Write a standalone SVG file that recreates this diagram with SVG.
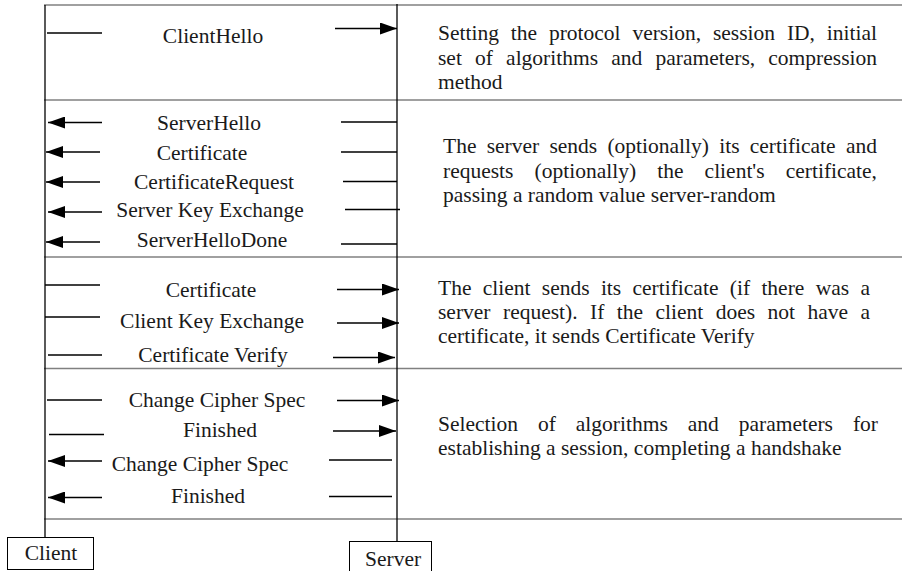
<svg xmlns="http://www.w3.org/2000/svg" width="902" height="571" viewBox="0 0 902 571" font-family="'Liberation Serif', 'Times New Roman', serif">
  <style>
    .sep { stroke: #808080; stroke-width: 1.5; fill: none; }
    .life { stroke: #000; stroke-width: 1.3; fill: none; }
    .msg { stroke: #000; stroke-width: 1.3; fill: none; }
    .arr { stroke: #000; stroke-width: 1.3; fill: none; marker-end: url(#head); }
    .box { fill: #fff; stroke: #000; stroke-width: 1; }
    text { font-family: 'Liberation Serif', 'Times New Roman', serif; font-size: 21.5px; fill: #1a1a1a; }
    .lbl { text-anchor: middle; }
    .end { text-anchor: end; }
  </style>
  <defs>
    <marker id="head" viewBox="0 0 17 12" refX="17" refY="6" markerWidth="17" markerHeight="12" markerUnits="userSpaceOnUse" orient="auto">
      <path d="M0,0 L17,6 L0,12 Z" fill="#000"/>
    </marker>
  </defs>

  <rect width="902" height="571" fill="#fff"/>

  <!-- phase separators -->
  <g id="separators">
    <line class="sep" x1="44" y1="5" x2="902" y2="5"/>
    <line class="sep" x1="44" y1="100" x2="902" y2="100"/>
    <line class="sep" x1="44" y1="257" x2="902" y2="257"/>
    <line class="sep" x1="44" y1="368.5" x2="902" y2="368.5"/>
    <line class="sep" x1="44" y1="519" x2="902" y2="519"/>
  </g>

  <!-- participants -->
  <g id="client">
    <line class="life" x1="45" y1="5" x2="45" y2="537"/>
    <rect class="box" x="7.5" y="537.5" width="86" height="32"/>
    <text class="lbl" x="51" y="560">Client</text>
  </g>
  <g id="server">
    <line class="life" x1="397" y1="4" x2="397" y2="541"/>
    <rect class="box" x="349.5" y="541.5" width="82" height="34"/>
    <text x="365" y="566">Server</text>
  </g>

  <!-- messages -->
  <g id="connectors">
    <!-- ClientHello -->
    <line class="msg" x1="47" y1="33" x2="102" y2="33"/>
    <line class="arr" x1="335" y1="28.5" x2="397" y2="28.5"/>
    <!-- server hello group -->
    <line class="arr" x1="102" y1="122.5" x2="48" y2="122.5"/>
    <line class="msg" x1="341" y1="122" x2="397" y2="122"/>
    <line class="arr" x1="100" y1="152" x2="46" y2="152"/>
    <line class="msg" x1="341" y1="152" x2="397" y2="152"/>
    <line class="arr" x1="100" y1="182" x2="46" y2="182"/>
    <line class="msg" x1="343" y1="181.5" x2="397" y2="181.5"/>
    <line class="arr" x1="102" y1="212" x2="48" y2="212"/>
    <line class="msg" x1="345" y1="209.5" x2="400" y2="209.5"/>
    <line class="arr" x1="100" y1="242" x2="46" y2="242"/>
    <line class="msg" x1="341" y1="244" x2="397" y2="244"/>
    <!-- client certificate group -->
    <line class="msg" x1="45" y1="285" x2="100" y2="285"/>
    <line class="arr" x1="337" y1="289.5" x2="399" y2="289.5"/>
    <line class="msg" x1="45" y1="317" x2="100" y2="317"/>
    <line class="arr" x1="337" y1="323" x2="399" y2="323"/>
    <line class="msg" x1="48" y1="355" x2="102" y2="355"/>
    <line class="arr" x1="333" y1="357.5" x2="395" y2="357.5"/>
    <!-- finish group -->
    <line class="msg" x1="47" y1="400" x2="102" y2="400"/>
    <line class="arr" x1="337" y1="400.5" x2="399" y2="400.5"/>
    <line class="msg" x1="49" y1="434.5" x2="104" y2="434.5"/>
    <line class="arr" x1="333" y1="431" x2="396" y2="431"/>
    <line class="arr" x1="102" y1="461" x2="48" y2="461"/>
    <line class="msg" x1="329" y1="460" x2="392" y2="460"/>
    <line class="arr" x1="102" y1="497.5" x2="48" y2="497.5"/>
    <line class="msg" x1="329" y1="496.5" x2="392" y2="496.5"/>
  </g>

  <!-- message labels -->
  <g id="labels">
    <text class="lbl" x="213" y="43">ClientHello</text>
    <text class="lbl" x="209" y="130">ServerHello</text>
    <text class="lbl" x="202" y="160">Certificate</text>
    <text class="lbl" x="214" y="189">CertificateRequest</text>
    <text class="lbl" x="210" y="217">Server Key Exchange</text>
    <text class="lbl" x="212" y="247">ServerHelloDone</text>
    <text class="lbl" x="211" y="297">Certificate</text>
    <text class="lbl" x="212" y="328">Client Key Exchange</text>
    <text class="lbl" x="213" y="362">Certificate Verify</text>
    <text class="lbl" x="217" y="407">Change Cipher Spec</text>
    <text class="lbl" x="220" y="437">Finished</text>
    <text class="lbl" x="200" y="471">Change Cipher Spec</text>
    <text class="lbl" x="208" y="503">Finished</text>
  </g>

  <!-- phase descriptions (justified: words placed individually, last word flush right) -->
  <g id="desc-hello">
    <text y="40"><tspan x="438">Setting</tspan><tspan x="510.8">the</tspan><tspan x="548.9">protocol</tspan><tspan x="632.4">version,</tspan><tspan x="712.9">session</tspan><tspan x="786.9">ID,</tspan><tspan class="end" x="877">initial</tspan></text>
    <text y="64.5"><tspan x="438">set</tspan><tspan x="475">of</tspan><tspan x="506.1">algorithms</tspan><tspan x="611.3">and</tspan><tspan x="655.5">parameters,</tspan><tspan class="end" x="877">compression</tspan></text>
    <text x="438" y="89">method</text>
  </g>
  <g id="desc-server">
    <text y="153"><tspan x="443">The</tspan><tspan x="486.7">server</tspan><tspan x="549.4">sends</tspan><tspan x="607.4">(optionally)</tspan><tspan x="719.2">its</tspan><tspan x="749.7">certificate</tspan><tspan class="end" x="877">and</tspan></text>
    <text y="177.5"><tspan x="443">requests</tspan><tspan x="534.6">(optionally)</tspan><tspan x="657.2">the</tspan><tspan x="704.6">client's</tspan><tspan class="end" x="877">certificate,</tspan></text>
    <text x="443" y="202">passing a random value server-random</text>
  </g>
  <g id="desc-client">
    <text y="295"><tspan x="438">The</tspan><tspan x="482.7">client</tspan><tspan x="541.8">sends</tspan><tspan x="600.9">its</tspan><tspan x="632.5">certificate</tspan><tspan x="729.8">(if</tspan><tspan x="761.4">there</tspan><tspan x="815.7">was</tspan><tspan class="end" x="870">a</tspan></text>
    <text y="319"><tspan x="438">server</tspan><tspan x="503">request).</tspan><tspan x="590">If</tspan><tspan x="616.8">the</tspan><tspan x="655.5">client</tspan><tspan x="715.7">does</tspan><tspan x="767.6">not</tspan><tspan x="807.5">have</tspan><tspan class="end" x="870">a</tspan></text>
    <text x="438" y="343">certificate, it sends Certificate Verify</text>
  </g>
  <g id="desc-finish">
    <text y="431"><tspan x="438">Selection</tspan><tspan x="538">of</tspan><tspan x="575.8">algorithms</tspan><tspan x="687.7">and</tspan><tspan x="738.7">parameters</tspan><tspan class="end" x="878">for</tspan></text>
    <text x="438" y="455">establishing a session, completing a handshake</text>
  </g>
</svg>
